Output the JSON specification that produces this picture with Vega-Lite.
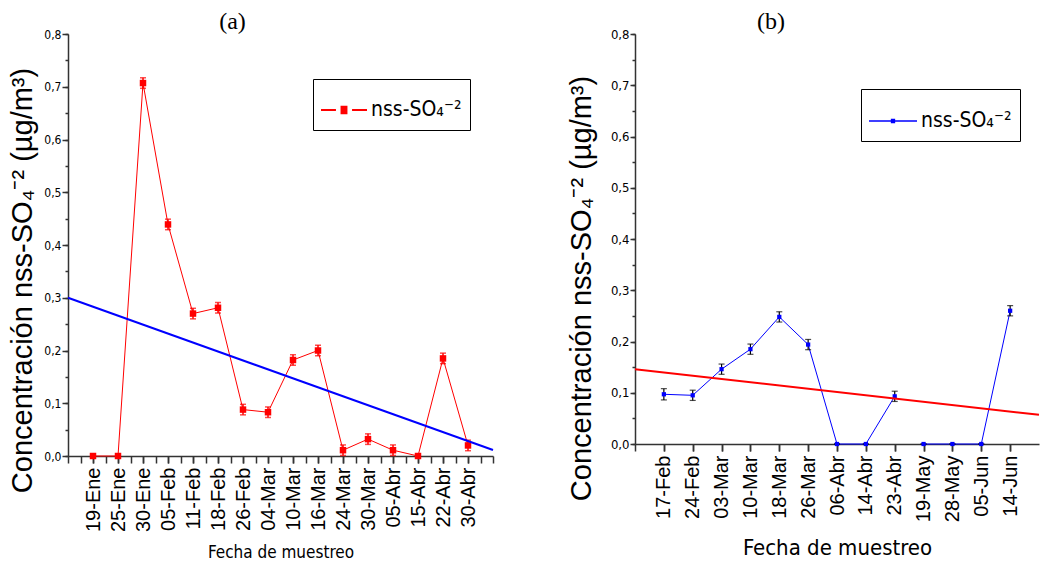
{
  "$schema": "https://vega.github.io/schema/vega-lite/v6.json",
  "padding": {"left": 8, "top": 10, "right": 0, "bottom": 0},
  "background": "white",
  "spacing": 70,
  "datasets": {
    "muestras_a": [
      {"fecha": "19-Ene", "valor": 0, "err": 0},
      {"fecha": "25-Ene", "valor": 0, "err": 0},
      {"fecha": "30-Ene", "valor": 0.707, "err": 0.01},
      {"fecha": "05-Feb", "valor": 0.439, "err": 0.01},
      {"fecha": "11-Feb", "valor": 0.270, "err": 0.01},
      {"fecha": "18-Feb", "valor": 0.281, "err": 0.01},
      {"fecha": "26-Feb", "valor": 0.088, "err": 0.01},
      {"fecha": "04-Mar", "valor": 0.083, "err": 0.01},
      {"fecha": "10-Mar", "valor": 0.182, "err": 0.01},
      {"fecha": "16-Mar", "valor": 0.200, "err": 0.01},
      {"fecha": "24-Mar", "valor": 0.011, "err": 0.01},
      {"fecha": "30-Mar", "valor": 0.032, "err": 0.01},
      {"fecha": "05-Abr", "valor": 0.011, "err": 0.01},
      {"fecha": "15-Abr", "valor": 0, "err": 0},
      {"fecha": "22-Abr", "valor": 0.185, "err": 0.01},
      {"fecha": "30-Abr", "valor": 0.020, "err": 0.01}
    ],
    "muestras_b": [
      {"fecha": "17-Feb", "valor": 0.097, "err": 0.011, "tramo": 1},
      {"fecha": "24-Feb", "valor": 0.095, "err": 0.01, "tramo": 1},
      {"fecha": "03-Mar", "valor": 0.146, "err": 0.01, "tramo": 1},
      {"fecha": "10-Mar", "valor": 0.185, "err": 0.01, "tramo": 1},
      {"fecha": "18-Mar", "valor": 0.248, "err": 0.01, "tramo": 1},
      {"fecha": "26-Mar", "valor": 0.194, "err": 0.01, "tramo": 1},
      {"fecha": "06-Abr", "valor": 0, "err": 0, "tramo": 1},
      {"fecha": "14-Abr", "valor": 0, "err": 0, "tramo": 1},
      {"fecha": "23-Abr", "valor": 0.093, "err": 0.01, "tramo": 1},
      {"fecha": "19-May", "valor": 0, "err": 0, "tramo": 2},
      {"fecha": "28-May", "valor": 0, "err": 0, "tramo": 2},
      {"fecha": "05-Jun", "valor": 0, "err": 0, "tramo": 2},
      {"fecha": "14-Jun", "valor": 0.260, "err": 0.01, "tramo": 2}
    ],
    "tendencia_a": [
      {"t": 0, "tendencia": 0.300},
      {"t": 17, "tendencia": 0.0114}
    ],
    "tendencia_b": [
      {"t": 0, "tendencia": 0.146},
      {"t": 14, "tendencia": 0.057}
    ]
  },
  "resolve": {"scale": {"color": "independent"}, "legend": {"color": "independent"}},
  "hconcat": [
    {
      "width": 425,
      "height": 422,
      "title": {"text": "(a)", "font": "Liberation Serif", "fontSize": 24, "fontWeight": "normal", "anchor": "middle", "dx": -48, "offset": -6, "color": "#000"},
      "resolve": {"scale": {"x": "independent"}, "axis": {"x": "independent", "y": "independent"}},
      "layer": [
        {
          "data": {"name": "muestras_a"},
          "layer": [
            {
              "mark": {"type": "line", "color": "#ff0000", "strokeWidth": 1},
              "encoding": {
                "x": {"field": "fecha", "type": "ordinal", "sort": null, "title": "Fecha de muestreo", "scale": {"type": "point", "padding": 1},
                  "axis": {"titleFont": "DejaVu Sans Condensed, Liberation Sans", "titleFontSize": 17, "titleFontWeight": "normal", "titleColor": "#000", "titlePadding": 13,
                    "labelAngle": -90, "labelFont": "Liberation Sans", "labelFontSize": 20, "labelColor": "#000", "labelPadding": 4,
                    "ticks": true, "tickSize": 7, "tickColor": "#333", "tickWidth": 1.5, "domain": true, "domainColor": "#333", "domainWidth": 1.5, "grid": false}},
                "y": {"field": "valor", "type": "quantitative", "title": "Concentración nss-SO₄⁻² (µg/m³)", "scale": {"domain": [0, 0.8]},
                  "axis": {"titleFont": "Liberation Sans", "titleFontSize": 29, "titleFontWeight": "normal", "titleColor": "#000", "titlePadding": 6, "titleY": 246,
                    "values": [0, 0.1, 0.2, 0.3, 0.4, 0.5, 0.6, 0.7, 0.8], "labelExpr": "replace(format(datum.value, '.1f'), '.', ',')",
                    "labelFont": "DejaVu Sans Condensed, Liberation Sans", "labelFontSize": 12, "labelColor": "#000", "labelPadding": 1,
                    "tickSize": 6, "tickColor": "#333", "tickWidth": 1.5, "domainColor": "#333", "domainWidth": 1.5, "grid": false}}
              }
            },
            {
              "mark": {"type": "errorbar", "ticks": {"size": 6, "color": "#ff0000"}, "color": "#ff0000", "thickness": 1.5},
              "encoding": {
                "x": {"field": "fecha", "type": "ordinal", "sort": null, "title": "Fecha de muestreo"},
                "y": {"field": "valor", "type": "quantitative", "title": "Concentración nss-SO₄⁻² (µg/m³)"},
                "yError": {"field": "err"}
              }
            },
            {
              "mark": {"type": "point", "shape": "square", "filled": true, "size": 42, "opacity": 1},
              "encoding": {
                "x": {"field": "fecha", "type": "ordinal", "sort": null, "title": "Fecha de muestreo"},
                "y": {"field": "valor", "type": "quantitative", "title": "Concentración nss-SO₄⁻² (µg/m³)"},
                "color": {"datum": "nss-SO₄⁻²", "type": "nominal", "scale": {"range": ["#ff0000"]},
                  "legend": {"orient": "none", "legendX": 245, "legendY": 45, "title": null,
                    "symbolType": "M-1,-0.04H-0.35V0.04H-1Z M-0.15,-0.19H0.15V0.19H-0.15Z M0.35,-0.04H1V0.04H0.35Z M0,-0.5V0.5",
                    "symbolSize": 2116, "symbolStrokeWidth": 0, "symbolOpacity": 1,
                    "labelFont": "DejaVu Sans Condensed, Liberation Sans", "labelFontSize": 21, "labelColor": "#000", "labelOffset": 4,
                    "strokeColor": "#000", "fillColor": "#fff", "padding": 8}}
              }
            }
          ]
        },
        {
          "data": {"name": "tendencia_a"},
          "mark": {"type": "line", "color": "#0000ff", "strokeWidth": 2},
          "encoding": {
            "x": {"field": "t", "type": "quantitative", "scale": {"domain": [0, 17], "nice": false, "zero": false},
              "axis": {"orient": "bottom", "values": [0, 0.5, 1, 1.5, 2, 2.5, 3, 3.5, 4, 4.5, 5, 5.5, 6, 6.5, 7, 7.5, 8, 8.5, 9, 9.5, 10, 10.5, 11, 11.5, 12, 12.5, 13, 13.5, 14, 14.5, 15, 15.5, 16, 16.5, 17],
                "labels": false, "domain": false, "title": null, "grid": false, "tickSize": 7, "tickColor": "#333", "tickWidth": 1.5}},
            "y": {"field": "tendencia", "type": "quantitative",
              "axis": {"orient": "left", "values": [0, 0.05, 0.1, 0.15, 0.2, 0.25, 0.3, 0.35, 0.4, 0.45, 0.5, 0.55, 0.6, 0.65, 0.7, 0.75, 0.8],
                "labels": false, "domain": false, "title": null, "grid": false, "tickSize": 3, "tickColor": "#333", "tickWidth": 1.5}}
          }
        }
      ]
    },
    {
      "width": 404,
      "height": 410,
      "title": {"text": "(b)", "font": "Liberation Serif", "fontSize": 24, "fontWeight": "normal", "anchor": "middle", "dx": -66, "offset": -6, "color": "#000"},
      "resolve": {"scale": {"x": "independent"}, "axis": {"x": "independent", "y": "independent"}},
      "layer": [
        {
          "data": {"name": "muestras_b"},
          "layer": [
            {
              "mark": {"type": "line", "color": "#0000ff", "strokeWidth": 1},
              "encoding": {
                "x": {"field": "fecha", "type": "ordinal", "sort": null, "title": "Fecha de muestreo", "scale": {"type": "point", "padding": 1},
                  "axis": {"titleFont": "DejaVu Sans Condensed, Liberation Sans", "titleFontSize": 22, "titleFontWeight": "normal", "titleColor": "#000", "titlePadding": 16,
                    "labelAngle": -90, "labelFont": "Liberation Sans", "labelFontSize": 20, "labelColor": "#000", "labelPadding": 4,
                    "ticks": true, "tickSize": 7, "tickColor": "#333", "tickWidth": 1.5, "domain": true, "domainColor": "#333", "domainWidth": 1.5, "grid": false}},
                "y": {"field": "valor", "type": "quantitative", "title": "Concentración nss-SO₄⁻² (µg/m³)", "scale": {"domain": [0, 0.8]},
                  "axis": {"titleFont": "Liberation Sans", "titleFontSize": 29, "titleFontWeight": "normal", "titleColor": "#000", "titlePadding": 14, "titleY": 254,
                    "values": [0, 0.1, 0.2, 0.3, 0.4, 0.5, 0.6, 0.7, 0.8], "labelExpr": "replace(format(datum.value, '.1f'), '.', ',')",
                    "labelFont": "DejaVu Sans Condensed, Liberation Sans", "labelFontSize": 13, "labelColor": "#000", "labelPadding": 1,
                    "tickSize": 5, "tickColor": "#333", "tickWidth": 1.5, "domainColor": "#333", "domainWidth": 1.5, "grid": false}},
                "detail": {"field": "tramo", "type": "nominal"}
              }
            },
            {
              "mark": {"type": "errorbar", "ticks": {"size": 6, "color": "#000"}, "color": "#000", "thickness": 1.2},
              "encoding": {
                "x": {"field": "fecha", "type": "ordinal", "sort": null, "title": "Fecha de muestreo"},
                "y": {"field": "valor", "type": "quantitative", "title": "Concentración nss-SO₄⁻² (µg/m³)"},
                "yError": {"field": "err"}
              }
            },
            {
              "mark": {"type": "point", "shape": "square", "filled": true, "size": 18, "opacity": 1},
              "encoding": {
                "x": {"field": "fecha", "type": "ordinal", "sort": null, "title": "Fecha de muestreo"},
                "y": {"field": "valor", "type": "quantitative", "title": "Concentración nss-SO₄⁻² (µg/m³)"},
                "color": {"datum": "nss-SO₄⁻²", "type": "nominal", "scale": {"range": ["#0000ff"]},
                  "legend": {"orient": "none", "legendX": 226, "legendY": 55, "title": null,
                    "symbolType": "M-1,-0.03H1V0.03H-1Z M-0.09,-0.09H0.09V0.09H-0.09Z M0,-0.5V0.5",
                    "symbolSize": 2304, "symbolStrokeWidth": 0, "symbolOpacity": 1,
                    "labelFont": "DejaVu Sans Condensed, Liberation Sans", "labelFontSize": 21, "labelColor": "#000", "labelOffset": 4,
                    "strokeColor": "#000", "fillColor": "#fff", "padding": 8}}
              }
            }
          ]
        },
        {
          "data": {"name": "tendencia_b"},
          "mark": {"type": "line", "color": "#ff0000", "strokeWidth": 2},
          "encoding": {
            "x": {"field": "t", "type": "quantitative", "scale": {"domain": [0, 14], "nice": false, "zero": false},
              "axis": {"orient": "bottom", "values": [0, 1, 2, 3, 4, 5, 6, 7, 8, 9, 10, 11, 12, 13],
                "labels": false, "domain": false, "title": null, "grid": false, "tickSize": 7, "tickColor": "#333", "tickWidth": 1.5}},
            "y": {"field": "tendencia", "type": "quantitative",
              "axis": {"orient": "left", "values": [0, 0.05, 0.1, 0.15, 0.2, 0.25, 0.3, 0.35, 0.4, 0.45, 0.5, 0.55, 0.6, 0.65, 0.7, 0.75, 0.8],
                "labels": false, "domain": false, "title": null, "grid": false, "tickSize": 3, "tickColor": "#333", "tickWidth": 1.5}}
          }
        }
      ]
    }
  ],
  "config": {"view": {"stroke": null}}
}
